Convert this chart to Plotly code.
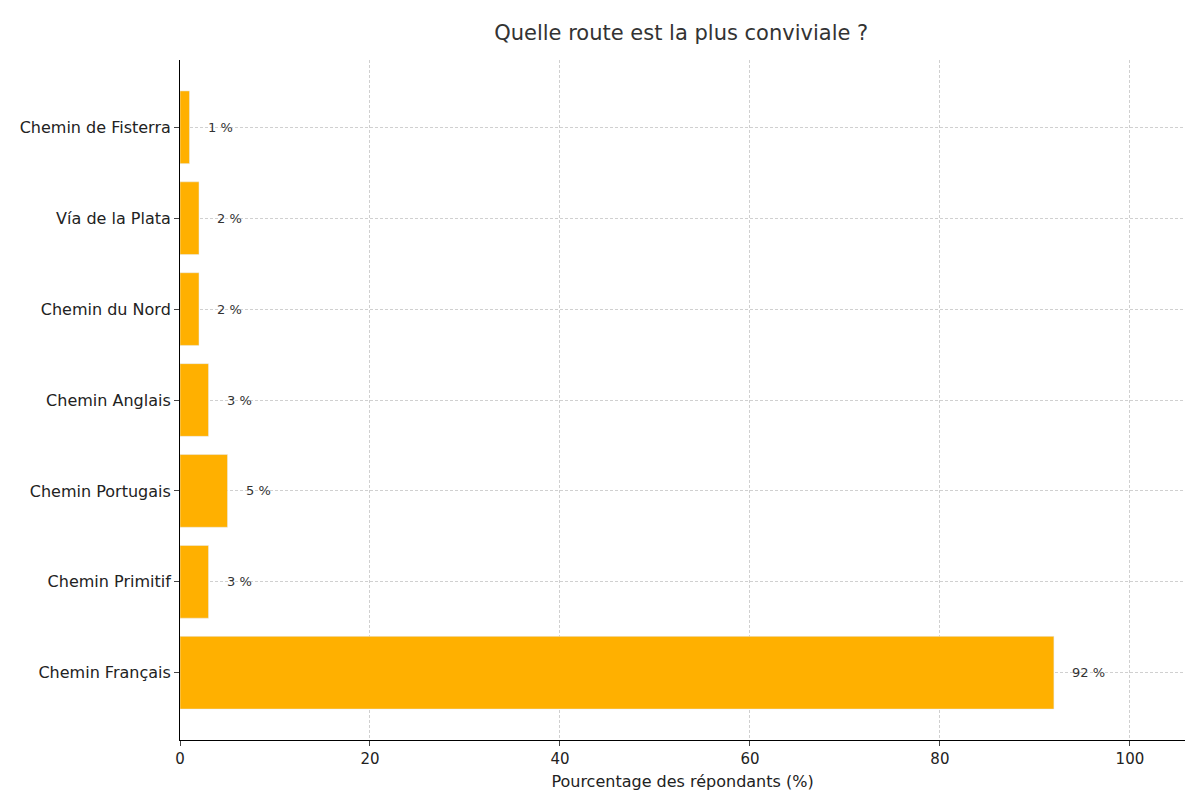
import plotly.graph_objects as go

routes = ["Chemin Français", "Chemin Primitif", "Chemin Portugais", "Chemin Anglais",
          "Chemin du Nord", "Vía de la Plata", "Chemin de Fisterra"]
values = [92, 3, 5, 3, 2, 2, 1]
labels = [f"{v} %" for v in values]

fig = go.Figure(go.Bar(x=values, y=routes, orientation="h", marker_color="#FFB000",
                       width=0.8, hoverinfo="skip"))
for v, r, t in zip(values, routes, labels):
    fig.add_annotation(x=v, y=r, text=t, showarrow=False, xanchor="left", xshift=16,
                       font=dict(size=13, color="#333"))

fig.update_layout(
    width=1200, height=800, plot_bgcolor="white", paper_bgcolor="white",
    margin=dict(l=169, r=23, t=52, b=68),
    font=dict(family="DejaVu Sans", color="#222"),
    title=dict(text="Quelle route est la plus conviviale ?", x=0.561, xanchor="center", y=0.978,
               font=dict(size=21, color="#333")),
    showlegend=False,
)
grid = dict(showgrid=True, gridcolor="#d0d0d0", griddash="3px,2px", gridwidth=0.7)
fig.update_xaxes(range=[0, 105.8], dtick=20, **grid,
                 showline=True, linecolor="black", ticks="outside", ticklen=5,
                 tickfont=dict(size=15), zeroline=False,
                 title=dict(text="Pourcentage des répondants (%)", font=dict(size=16), standoff=8))
fig.update_yaxes(range=[-0.74, 6.74], categoryorder="array", categoryarray=routes, **grid,
                 showline=True, linecolor="black", ticks="outside", ticklen=5,
                 tickfont=dict(size=16))
fig.write_html("out.html")
